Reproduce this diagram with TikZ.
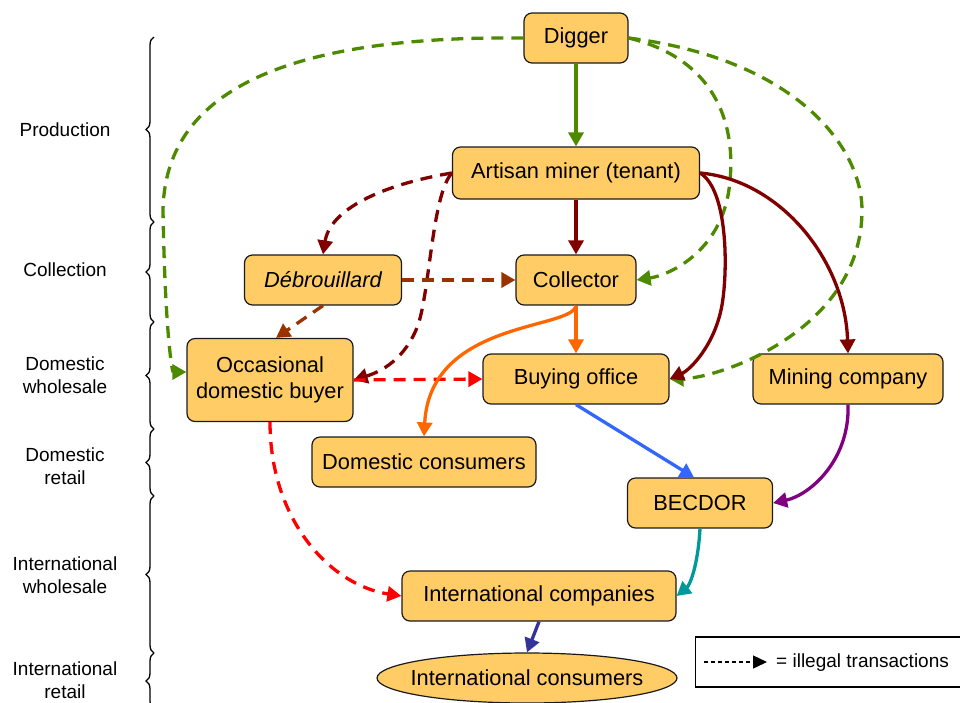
\documentclass[tikz,border=0pt]{standalone}
\usepackage{fontspec}
\setmainfont{Liberation Sans}
\usetikzlibrary{arrows.meta,calc,positioning,shapes.geometric,decorations.pathreplacing}
\definecolor{gold}{HTML}{FFCC66}
\definecolor{edge}{HTML}{1A1A1A}
\definecolor{leaf}{HTML}{4D8A00}
\definecolor{maroon}{HTML}{800000}
\definecolor{rust}{HTML}{993300}
\definecolor{scarlet}{HTML}{FF0000}
\definecolor{tangerine}{HTML}{FF6600}
\definecolor{azure}{HTML}{3366FF}
\definecolor{plum}{HTML}{800080}
\definecolor{sea}{HTML}{009999}
\definecolor{deepblue}{HTML}{333399}
\newcommand\boxsize{\fontsize{21.8pt}{26pt}\selectfont}
\newcommand\sidesize{\fontsize{19pt}{23pt}\selectfont}
\tikzset{
  actor/.style={rounded corners=8pt,draw=edge,fill=gold,line width=1.2pt,
                inner sep=0pt,align=center,font=\boxsize,minimum height=50pt},
  market/.style={ellipse,draw=edge,fill=gold,line width=1.2pt,inner xsep=-12pt,inner ysep=0pt,
                 font=\boxsize,minimum width=300pt,minimum height=50pt},
  tier/.style={align=center,font=\sidesize},
  tierbrace/.style={decorate,decoration={brace,amplitude=8pt},line width=1.3pt},
  trade/.style={-{Triangle[length=14pt,width=15pt]},line width=3.3pt},
  illegal/.style={trade,dash pattern=on 12pt off 8pt},
  legendbox/.style={draw=black,line width=1.2pt,minimum width=270pt,minimum height=50pt}
}
\begin{document}
\begin{tikzpicture}[x=1pt,y=-1pt]
    \useasboundingbox (0,0) rectangle (960,702);
    % supply chain tiers
    \node[tier] (tprod) at (65,130) {Production};
    \node[tier] (tcoll) at (65,270) {Collection};
    \node[tier] (tdw) at (65,375) {Domestic\\wholesale};
    \node[tier] (tdr) at (65,466) {Domestic\\retail};
    \node[tier] (tiw) at (65,575) {International\\wholesale};
    \node[tier] (tir) at (65,680) {International\\retail};
    \foreach \top/\bot in {37/222,222/322,322/429,429/496,496/653,653/709}
      \draw[tierbrace] (154,\bot) -- (154,\top);
    % actors
    \node[actor,minimum width=104pt] (dig) at (576,38) {Digger};
    \node[actor,minimum width=247pt,minimum height=52pt] (art) at (576,173) {Artisan miner (tenant)};
    \node[actor,minimum width=157pt] (dbr) at (323,280) {\itshape Débrouillard};
    \node[actor,minimum width=120pt] (col) at (576,280) {Collector};
    \node[actor,minimum width=166pt,minimum height=83pt] (occ) at (270,380) {Occasional\\domestic buyer};
    \node[actor,minimum width=186pt] (bo) at (576,379) {Buying office};
    \node[actor,minimum width=190pt] (mc) at (848,379) {Mining company};
    \node[actor,minimum width=224pt] (dcons) at (424,462) {Domestic consumers};
    \node[actor,minimum width=145pt] (bec) at (700,503) {BECDOR};
    \node[actor,minimum width=274pt] (ic) at (539,596) {International companies};
    \node[market] (icons) at (527,678) {International consumers};
    % flows from the digger
    \draw[trade,leaf] (dig) -- (art);
    \draw[illegal,leaf] (dig.west) .. controls (250,35) and (165,110) .. (163,210)
          .. controls (165,330) and (172,372) .. ($(occ.west)+(0,-8)$);
    \draw[illegal,leaf] (dig.east) .. controls (720,60) and (735,130) .. (730,180)
          .. controls (725,250) and (670,275) .. (col.east);
    \draw[illegal,leaf] (dig.east) .. controls (800,60) and (862,150) .. (862,210)
          .. controls (862,330) and (720,378) .. (bo.east);
    % flows from the artisan miner
    \draw[trade,maroon] (art) -- (col);
    \draw[illegal,maroon] (art.west) .. controls (380,185) and (330,210) .. (dbr.north);
    \draw[illegal,maroon] (art.west) .. controls (432,195) and (430,290) .. (418,325)
          .. controls (405,360) and (380,372) .. (occ.east);
    \draw[trade,maroon] (art.east) .. controls (728,190) and (728,270) .. (722,305)
          .. controls (715,345) and (690,370) .. (bo.east);
    \draw[trade,maroon] (art.east) .. controls (780,180) and (845,260) .. (mc.north);
    % middlemen
    \draw[illegal,rust] (dbr) -- (col);
    \draw[illegal,rust] (dbr.south) -- ($(occ.north)+(6,0)$);
    \draw[illegal,scarlet] (occ.east) -- (bo.west);
    \draw[trade,tangerine] (col) -- (bo);
    \draw[trade,tangerine] (col.south) .. controls (572,330) and (430,320) .. (dcons.north);
    \draw[illegal,scarlet] (occ.south) .. controls (270,520) and (330,585) .. (ic.west);
    \draw[trade,azure] (bo.south) -- ($(bec.north)+(-6,0)$);
    \draw[trade,plum] (mc.south) .. controls (850,460) and (810,495) .. (bec.east);
    \draw[trade,sea] (bec.south) .. controls (698,565) and (690,585) .. (ic.east);
    \draw[trade,deepblue] (ic.south) -- (icons.north);
    % legend
    \node[legendbox,anchor=west] (legend) at (695,662) {};
    \coordinate (legA) at (704,662);
    \coordinate (legB) at (767,662);
    \draw[-{Triangle[length=14pt,width=13pt]},line width=1.4pt,dash pattern=on 4pt off 3pt] (legA) -- (legB);
    \node[font=\sidesize,inner sep=0pt,anchor=west] (legtext) at (776,663) {= illegal transactions};
\end{tikzpicture}
\end{document}
